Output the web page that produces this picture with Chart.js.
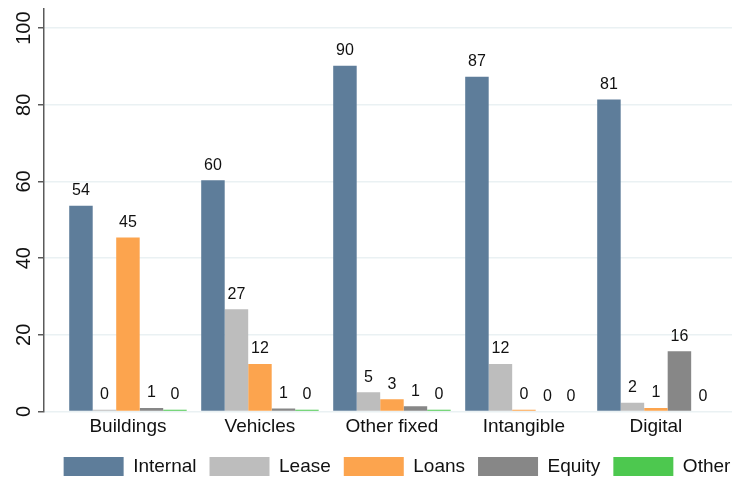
<!DOCTYPE html>
<html>
<head>
<meta charset="utf-8">
<script src="https://cdn.jsdelivr.net/npm/chart.js@4/dist/chart.umd.min.js"></script>
<style>
  html, body { margin: 0; padding: 0; background: #fff; overflow: hidden; }
  #wrap { width: 732px; height: 477px; overflow: hidden; }
</style>
</head>
<body>
<div id="wrap"><canvas id="chart" width="794" height="486"></canvas></div>
<script>
const categories = ['Buildings', 'Vehicles', 'Other fixed', 'Intangible', 'Digital'];
const seriesNames = ['Internal', 'Lease', 'Loans', 'Equity', 'Other'];
const internal = [53.7, 60.3, 90.2, 87.3, 81.4];
const lease = [0.45, 26.7, 5.0, 12.4, 2.3];
const loans = [45.4, 12.4, 3.2, 0.45, 0.9];
const equity = [0.9, 0.8, 1.4, 0, 15.7];
const other = [0.45, 0.45, 0.45, 0, 0];
const yTicks = [0, 20, 40, 60, 80, 100];

const colors = ['#5e7d9a', '#bdbdbd', '#fca44e', '#878787', '#4dc84f'];
const series = [internal, lease, loans, equity, other];

const valueLabels = {
    id: 'valueLabels',
    afterDatasetsDraw(chart) {
        const ctx = chart.ctx;
        ctx.save();
        ctx.font = '16px "Liberation Sans", Arial, sans-serif';
        ctx.fillStyle = '#111';
        ctx.textAlign = 'center';
        ctx.textBaseline = 'middle';
        chart.data.datasets.forEach((ds, i) => {
            chart.getDatasetMeta(i).data.forEach((bar, j) => {
                ctx.fillText(Math.round(ds.data[j].y), bar.x, bar.y - 15);
            });
        });
        ctx.restore();
    }
};

new Chart(document.getElementById('chart'), {
    type: 'bar',
    data: {
        datasets: series.map((vals, i) => ({
            label: seriesNames[i],
            data: vals.map((v, j) => ({ x: j, y: v })),
            backgroundColor: colors[i],
            borderWidth: 0,
            categoryPercentage: 0.89,
            barPercentage: 1.0
        }))
    },
    options: {
        responsive: false,
        devicePixelRatio: 1,
        animation: false,
        layout: { padding: { top: 8, left: 0, right: 0, bottom: 0 } },
        scales: {
            x: {
                type: 'linear',
                offset: false,
                min: -0.636,
                max: 5.046,
                grid: { display: false, drawTicks: false },
                border: { display: false },
                ticks: {
                    stepSize: 1,
                    includeBounds: false,
                    autoSkip: false,
                    maxRotation: 0,
                    padding: 4,
                    color: '#111',
                    font: { family: '"Liberation Sans", Arial, sans-serif', size: 19 },
                    callback: (v) => categories[v]
                },
                afterFit: (scale) => { scale.height = 32.5; }
            },
            y: {
                min: 0,
                max: 105,
                afterBuildTicks: (scale) => { scale.ticks = yTicks.map(v => ({ value: v })); },
                grid: { color: '#eaf1f3', lineWidth: 1.5, tickColor: '#5a5a5a', tickLength: 6 },
                border: { display: true, color: '#5a5a5a', width: 1.5 },
                ticks: {
                    includeBounds: false,
                    minRotation: 90,
                    maxRotation: 90,
                    crossAlign: 'center',
                    padding: -3,
                    color: '#111',
                    font: { family: '"Liberation Sans", Arial, sans-serif', size: 20 }
                },
                afterFit: (scale) => { scale.width = 44; }
            }
        },
        plugins: {
            legend: {
                position: 'bottom',
                labels: {
                    boxWidth: 60,
                    boxHeight: 19,
                    padding: 13,
                    color: '#111',
                    font: { family: '"Liberation Sans", Arial, sans-serif', size: 19 }
                }
            },
            tooltip: { enabled: false }
        }
    },
    plugins: [valueLabels]
});
</script>
</body>
</html>
